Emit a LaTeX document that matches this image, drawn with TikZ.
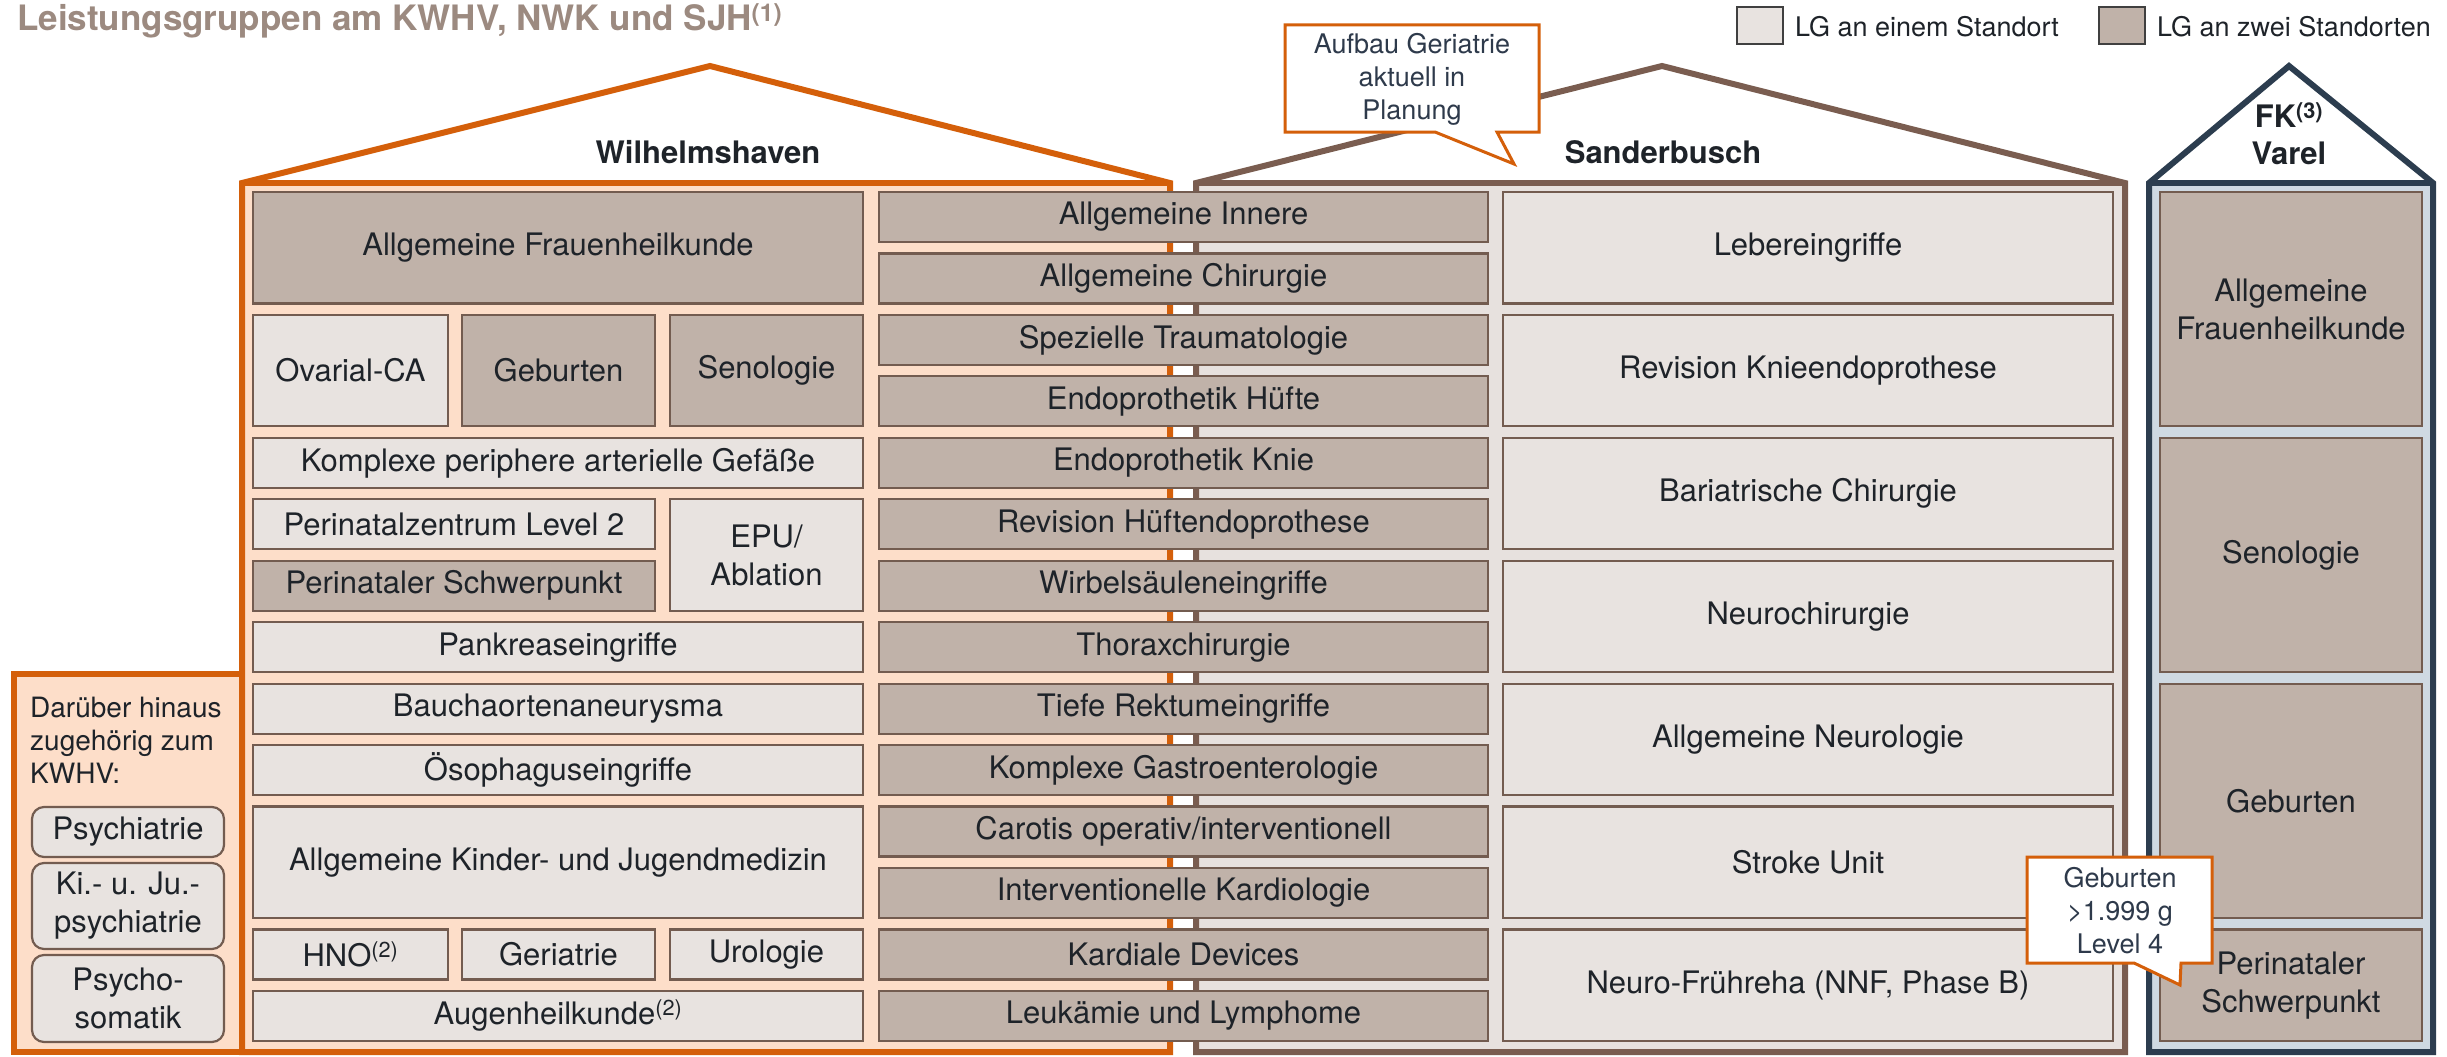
\documentclass[tikz,border=0pt]{standalone}
\usepackage{fontspec}
\setmainfont{TeX Gyre Heros}
\definecolor{orangeC}{HTML}{D45F0A}
\definecolor{brownC}{HTML}{7A5D50}
\definecolor{navyC}{HTML}{2C3D4F}
\definecolor{peach}{HTML}{FDDEC9}
\definecolor{sbg}{HTML}{E7E1DE}
\definecolor{fkbg}{HTML}{CFD9E2}
\definecolor{lightfill}{HTML}{E8E3E0}
\definecolor{darkfill}{HTML}{C0B2A9}
\definecolor{boxline}{HTML}{735C50}
\definecolor{txt}{HTML}{1E2329}
\definecolor{titlec}{HTML}{9C8A80}
\definecolor{slate}{HTML}{2E3A4B}
\newcommand{\cell}[7]{%
  \pgfmathsetmacro\bxX{(#3+#4)/2}%
  \pgfmathsetmacro\bxY{192+61.45*(#5+#6)/2+25}%
  \pgfmathsetmacro\bxW{#4-#3}%
  \pgfmathsetmacro\bxH{61.45*(#6-#5)+50}%
  \node[#2, minimum width=\bxW pt, minimum height=\bxH pt] (#1) at (\bxX,\bxY) {#7};%
}
\begin{document}
\begin{tikzpicture}[x=1pt,y=-1pt,
  lg/.style={draw=boxline, line width=2.2pt, text=txt, font=\fontsize{31}{38}\selectfont, align=center, inner sep=0pt},
  light/.style={lg, fill=lightfill},
  dark/.style={lg, fill=darkfill},
  rbox/.style={lg, fill=lightfill, rounded corners=12pt, minimum width=192pt},
  house/.style={line width=6pt, line join=miter},
  label/.style={font=\bfseries\fontsize{31}{37}\selectfont, text=txt, align=center, inner sep=0pt},
  callout/.style={draw=orangeC, line width=3pt, fill=white, line join=miter},
  calltext/.style={font=\fontsize{27}{33}\selectfont, text=slate, align=center, inner sep=0pt},
  legbox/.style={draw=black!75, line width=2pt, minimum width=46pt, minimum height=37pt, inner sep=0pt},
  legtext/.style={font=\fontsize{27}{32}\selectfont, text=txt, anchor=west, inner sep=0pt}
]
\useasboundingbox (0,0) rectangle (2447,1057);

% title
\node[anchor=base west, inner sep=0pt, text=titlec, font=\bfseries\fontsize{35}{40}\selectfont] (title) at (17,31) {Leistungsgruppen am KWHV, NWK und SJH\textsuperscript{(1)}};

% legend
\node[legbox, fill=lightfill] (leg1) at (1760,26) {};
\node[legtext] (leg1t) at (1795,27) {LG an einem Standort};
\node[legbox, fill=darkfill] (leg2) at (2122,26) {};
\node[legtext] (leg2t) at (2157,27) {LG an zwei Standorten};

% left extra box
\filldraw[fill=peach, draw=orangeC, line width=6pt] (14,674) rectangle (242,1052);

% houses
\fill[peach] (242,183) rectangle (1170,1052);
\fill[white] (242,183) -- (710,66) -- (1170,183) -- cycle;
\draw[house, orangeC] (242,1052) -- (242,183) -- (710,66) -- (1170,183) -- (1170,1052) -- cycle;
\draw[house, orangeC] (242,183) -- (1170,183);

\fill[sbg] (1196,183) rectangle (2125,1052);
\draw[house, brownC] (1196,1052) -- (1196,183) -- (1662,66) -- (2125,183) -- (2125,1052) -- cycle;
\draw[house, brownC] (1196,183) -- (2125,183);

\fill[fkbg] (2149,183) rectangle (2433,1052);
\draw[house, navyC] (2149,1052) -- (2149,183) -- (2289,66) -- (2433,183) -- (2433,1052) -- cycle;
\draw[house, navyC] (2149,183) -- (2433,183);

\node[label, anchor=base] (lblW) at (708,163) {Wilhelmshaven};
\node[label, anchor=base] (lblS) at (1663,163) {Sanderbusch};
\node[label] (lblFK) at (2289,134) {FK\textsuperscript{(3)}\\Varel};

% Wilhelmshaven column
\cell{afh}{dark}{253}{863}{0}{1}{Allgemeine Frauenheilkunde}
\cell{ova}{light}{253}{448}{2}{3}{Ovarial-CA}
\cell{gebW}{dark}{462}{655}{2}{3}{Geburten}
\cell{senW}{dark}{670}{863}{2}{3}{Senologie}
\cell{kpa}{light}{253}{863}{4}{4}{Komplexe periphere arterielle Gefäße}
\cell{pz2}{light}{253}{655}{5}{5}{Perinatalzentrum Level 2}
\cell{pspW}{dark}{253}{655}{6}{6}{Perinataler Schwerpunkt}
\cell{epu}{light}{670}{863}{5}{6}{EPU/\\Ablation}
\cell{pan}{light}{253}{863}{7}{7}{Pankreaseingriffe}
\cell{bau}{light}{253}{863}{8}{8}{Bauchaortenaneurysma}
\cell{oes}{light}{253}{863}{9}{9}{Ösophaguseingriffe}
\cell{kjm}{light}{253}{863}{10}{11}{Allgemeine Kinder- und Jugendmedizin}
\cell{hno}{light}{253}{448}{12}{12}{HNO\textsuperscript{(2)}}
\cell{ger}{light}{462}{655}{12}{12}{Geriatrie}
\cell{uro}{light}{670}{863}{12}{12}{Urologie}
\cell{aug}{light}{253}{863}{13}{13}{Augenheilkunde\textsuperscript{(2)}}

% shared column
\cell{m0}{dark}{879}{1488}{0}{0}{Allgemeine Innere}
\cell{m1}{dark}{879}{1488}{1}{1}{Allgemeine Chirurgie}
\cell{m2}{dark}{879}{1488}{2}{2}{Spezielle Traumatologie}
\cell{m3}{dark}{879}{1488}{3}{3}{Endoprothetik Hüfte}
\cell{m4}{dark}{879}{1488}{4}{4}{Endoprothetik Knie}
\cell{m5}{dark}{879}{1488}{5}{5}{Revision Hüftendoprothese}
\cell{m6}{dark}{879}{1488}{6}{6}{Wirbelsäuleneingriffe}
\cell{m7}{dark}{879}{1488}{7}{7}{Thoraxchirurgie}
\cell{m8}{dark}{879}{1488}{8}{8}{Tiefe Rektumeingriffe}
\cell{m9}{dark}{879}{1488}{9}{9}{Komplexe Gastroenterologie}
\cell{m10}{dark}{879}{1488}{10}{10}{Carotis operativ/interventionell}
\cell{m11}{dark}{879}{1488}{11}{11}{Interventionelle Kardiologie}
\cell{m12}{dark}{879}{1488}{12}{12}{Kardiale Devices}
\cell{m13}{dark}{879}{1488}{13}{13}{Leukämie und Lymphome}

% Sanderbusch column
\cell{s0}{light}{1503}{2113}{0}{1}{Lebereingriffe}
\cell{s1}{light}{1503}{2113}{2}{3}{Revision Knieendoprothese}
\cell{s2}{light}{1503}{2113}{4}{5}{Bariatrische Chirurgie}
\cell{s3}{light}{1503}{2113}{6}{7}{Neurochirurgie}
\cell{s4}{light}{1503}{2113}{8}{9}{Allgemeine Neurologie}
\cell{s5}{light}{1503}{2113}{10}{11}{Stroke Unit}
\cell{s6}{light}{1503}{2113}{12}{13}{Neuro-Frühreha (NNF, Phase B)}

% FK Varel column
\cell{f0}{dark}{2160}{2422}{0}{3}{Allgemeine\\Frauenheilkunde}
\cell{f1}{dark}{2160}{2422}{4}{7}{Senologie}
\cell{f2}{dark}{2160}{2422}{8}{11}{Geburten}
\cell{f3}{dark}{2160}{2422}{12}{13}{Perinataler\\Schwerpunkt}

% left extra content
\node[anchor=west, inner sep=0pt, align=left, text=txt, font=\fontsize{28}{33}\selectfont] (extra) at (30,740) {Darüber hinaus\\zugehörig zum\\KWHV:};
\node[rbox, minimum height=50pt] (psy) at (128,832) {Psychiatrie};
\node[rbox, minimum height=86pt] (kjp) at (128,906) {Ki.- u. Ju.-\\psychiatrie};
\node[rbox, minimum height=87pt] (pso) at (128,998.5) {Psycho-\\somatik};

% callouts
\draw[callout] (1285,25) -- (1539,25) -- (1539,132) -- (1497,132) -- (1514,164) -- (1435,132) -- (1285,132) -- cycle;
\node[calltext] (co1) at (1412,79) {Aufbau Geriatrie\\aktuell in\\Planung};
\draw[callout] (2027,857) -- (2212,857) -- (2212,963) -- (2181,963) -- (2180,985) -- (2134,963) -- (2027,963) -- cycle;
\node[calltext] (co2) at (2120,911) {Geburten\\>1.999 g\\Level 4};
\end{tikzpicture}
\end{document}
